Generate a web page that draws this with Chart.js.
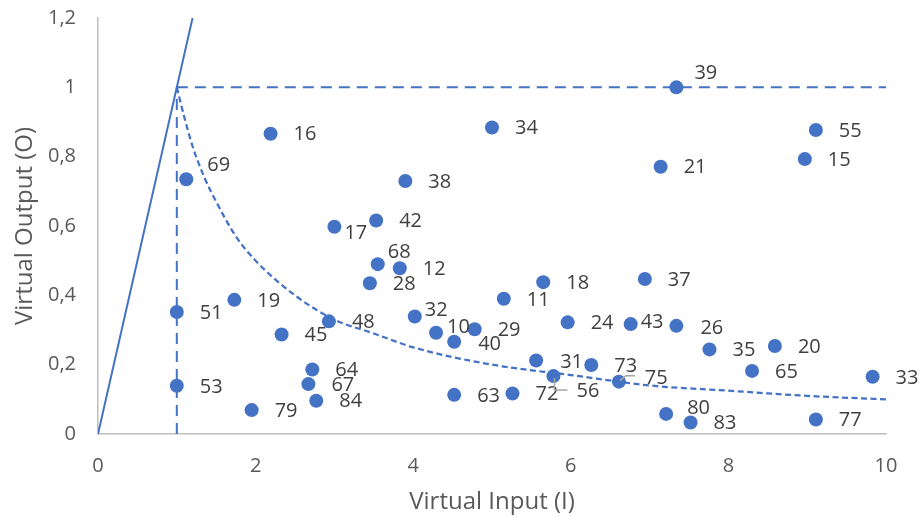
<!DOCTYPE html>
<html>
<head>
<meta charset="utf-8">
<script src="https://cdn.jsdelivr.net/npm/chart.js@4"></script>
<style>
  html, body { margin: 0; padding: 0; background: #fff; }
  #wrap { width: 922px; height: 517px; }
</style>
</head>
<body>
<div id="wrap"><canvas id="myChart"></canvas></div>
<script>
// DMU ids and their (virtual input, virtual output) coordinates
const dmuIds = ['16', '69', '38', '17', '42', '68', '39', '34', '21', '55', '15', '12', '28', '19', '51',
    '48', '45', '32', '10', '40', '29', '64', '67', '84', '53', '79', '63', '72', '18', '11',
    '37', '24', '43', '26', '35', '20', '65', '33', '31', '73', '56', '75', '80', '83', '77']
const inputX = [2.19, 1.12, 3.90, 3.00, 3.53, 3.55, 7.34, 5.00, 7.14, 9.11, 8.97, 3.83, 3.45, 1.73, 1.00,
    2.93, 2.33, 4.02, 4.29, 4.52, 4.78, 2.72, 2.67, 2.77, 1.00, 1.95, 4.52, 5.26, 5.65, 5.15,
    6.94, 5.96, 6.76, 7.34, 7.76, 8.59, 8.30, 9.83, 5.56, 6.26, 5.78, 6.61, 7.21, 7.52, 9.11]
const outputY = [0.866, 0.735, 0.730, 0.598, 0.616, 0.490, 1.000, 0.884, 0.771, 0.877, 0.793, 0.478, 0.435, 0.387, 0.352,
    0.325, 0.287, 0.339, 0.292, 0.266, 0.302, 0.186, 0.144, 0.096, 0.139, 0.069, 0.113, 0.117, 0.438, 0.390,
    0.447, 0.322, 0.317, 0.312, 0.244, 0.254, 0.182, 0.165, 0.212, 0.199, 0.167, 0.151, 0.058, 0.033, 0.042]

// solid frontier ray through the origin
const rayX = [0, 1.2]
const rayY = [0, 1.2]

// dashed guide lines
const hLineX = [1, 10]
const hLineY = [1, 1]
const vLineX = [1, 1]
const vLineY = [0, 1]

// dashed curve
const curveX = [1, 1.1, 1.2, 1.35, 1.5, 1.75, 2, 2.5, 3, 3.5, 4, 5, 6, 7, 8, 9, 10]
const curveY = [1, 0.91, 0.83, 0.74, 0.67, 0.57, 0.5, 0.4, 0.33, 0.29, 0.25, 0.2, 0.17, 0.14, 0.125, 0.11, 0.1]

const xTicks = [0, 2, 4, 6, 8, 10]
const yTickLabels = ['0', '0,2', '0,4', '0,6', '0,8', '1', '1,2']

const blue = '#4472C4'
const font = "'Open Sans', sans-serif"

function pts(xs, ys) {
    return xs.map((x, i) => ({ x: x, y: ys[i] }))
}

// label placement tweaks (dx to left edge, dy to middle) where Excel moved them
const labelNudge = {
    '69': [21, -14], '17': [10, 7], '68': [10, -12], '39': [18, -14], '32': [10, -6],
    '10': [11, -5], '43': [10, -2], '80': [21, -6], '56': [23, 15], '75': [26, -3],
    '31': [24, 2], '26': [24, 2], '40': [24, 3],
}
const leaders = {
    '56': [[1, 2], [1, 14], [14, 14]],
    '75': [[1, -1], [7, -6], [16, -6]],
}

const pointLabels = {
    id: 'pointLabels',
    afterDatasetsDraw(chart) {
        const ctx = chart.ctx
        const meta = chart.getDatasetMeta(0)
        ctx.save()
        ctx.font = '20px ' + font
        ctx.fillStyle = '#404040'
        ctx.textAlign = 'left'
        ctx.textBaseline = 'middle'
        meta.data.forEach((el, i) => {
            const id = dmuIds[i]
            const nd = labelNudge[id] || [23, 1]
            if (leaders[id]) {
                ctx.beginPath()
                ctx.strokeStyle = '#A6A6A6'
                ctx.lineWidth = 1.5
                leaders[id].forEach((p, k) => {
                    if (k === 0) ctx.moveTo(el.x + p[0], el.y + p[1])
                    else ctx.lineTo(el.x + p[0], el.y + p[1])
                })
                ctx.stroke()
            }
            ctx.fillText(id, el.x + nd[0], el.y + nd[1])
        })
        ctx.restore()
    },
}

function render_chart() {
    const data = {
        datasets: [
            {
                type: 'scatter',
                label: 'DMU',
                data: pts(inputX, outputY),
                backgroundColor: blue,
                borderColor: blue,
                borderWidth: 0,
                pointRadius: 7,
                order: 0,
            },
            {
                type: 'line',
                data: pts(rayX, rayY),
                borderColor: blue,
                borderWidth: 2,
                pointRadius: 0,
                order: 1,
            },
            {
                type: 'line',
                data: pts(hLineX, hLineY),
                borderColor: blue,
                borderWidth: 2,
                borderDash: [11, 7],
                pointRadius: 0,
                order: 1,
            },
            {
                type: 'line',
                data: pts(vLineX, vLineY),
                borderColor: blue,
                borderWidth: 2,
                borderDash: [11, 7],
                pointRadius: 0,
                order: 1,
            },
            {
                type: 'line',
                data: pts(curveX, curveY),
                borderColor: blue,
                borderWidth: 2.25,
                borderDash: [6, 3.5],
                pointRadius: 0,
                cubicInterpolationMode: 'monotone',
                order: 1,
            },
        ],
    }

    const config = {
        type: 'scatter',
        data: data,
        plugins: [pointLabels],
        options: {
            responsive: true,
            maintainAspectRatio: false,
            animation: false,
            layout: { padding: { top: 18, right: 36, left: 0, bottom: 0 } },
            plugins: {
                legend: { display: false },
                tooltip: { enabled: false },
            },
            scales: {
                x: {
                    type: 'linear',
                    min: 0,
                    max: 10,
                    afterBuildTicks: (s) => { s.ticks = xTicks.map(v => ({ value: v })) },
                    afterFit: (s) => { s.height = 83 },
                    grid: { display: false, drawTicks: false },
                    border: { display: true, color: '#BFBFBF', width: 1.5 },
                    ticks: { color: '#595959', font: { family: font, size: 20 }, padding: 20, maxRotation: 0 },
                    title: {
                        display: true,
                        text: 'Virtual Input (I)',
                        color: '#595959',
                        font: { family: font, size: 24 },
                        padding: { top: 0, bottom: 0 },
                    },
                },
                y: {
                    type: 'linear',
                    min: 0,
                    max: 1.2,
                    ticks: {
                        stepSize: 0.2,
                        color: '#595959',
                        font: { family: font, size: 20 },
                        padding: 22,
                        callback: (v, i) => yTickLabels[i],
                    },
                    afterFit: (s) => {
                        s.width = 98
                        s.paddingTop = 0
                        s.paddingBottom = 0
                    },
                    grid: { display: false, drawTicks: false },
                    border: { display: true, color: '#BFBFBF', width: 1.5 },
                    title: {
                        display: true,
                        text: 'Virtual Output (O)',
                        color: '#595959',
                        font: { family: font, size: 24 },
                        padding: { top: 11, bottom: 0 },
                    },
                },
            },
        },
    }

    const myChart = new Chart(document.getElementById('myChart'), config)
}

document.addEventListener('DOMContentLoaded', render_chart)
</script>
</body>
</html>
